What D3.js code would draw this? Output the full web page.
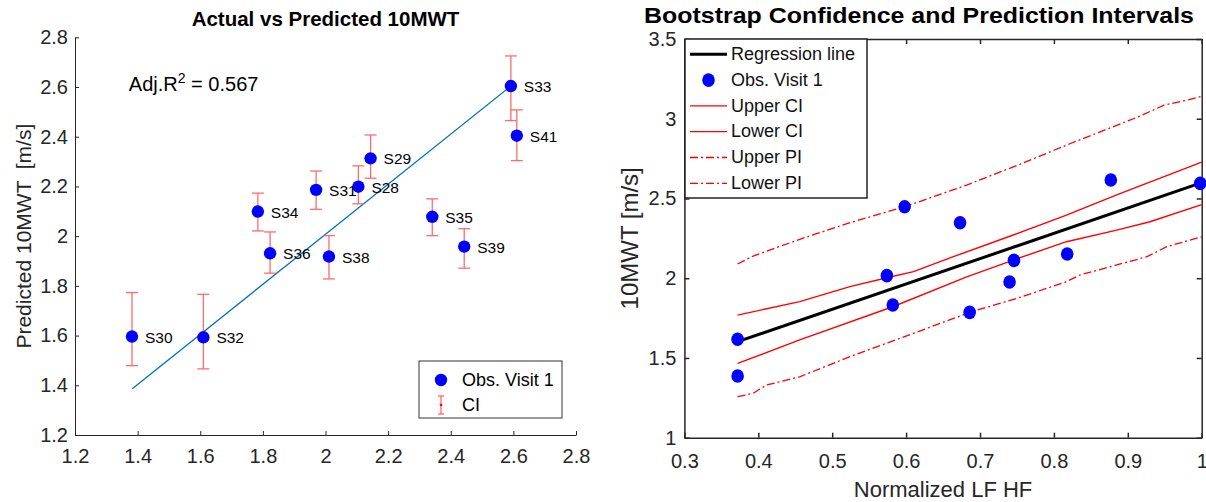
<!DOCTYPE html>
<html>
<head>
<meta charset="utf-8">
<script src="https://cdn.jsdelivr.net/npm/d3@7/dist/d3.min.js"></script>
<style>
  html, body { margin: 0; padding: 0; background: #fff; }
  svg { display: block; font-family: "Liberation Sans", Arial, Helvetica, sans-serif; }
</style>
</head>
<body>
<svg id="chart" width="1206" height="502"></svg>
<script>
// ---------- Left panel data ----------
const leftTitle = "Actual vs Predicted 10MWT";
const leftYLabel = "Predicted 10MWT  [m/s]";
const leftTicks = [1.2, 1.4, 1.6, 1.8, 2, 2.2, 2.4, 2.6, 2.8];
const subjects   = ["S33", "S41", "S29", "S31", "S28", "S35", "S39", "S38", "S34", "S36", "S30", "S32"];
const actual     = [2.592, 2.611, 2.144, 1.970, 2.105, 2.341, 2.443, 2.011, 1.784, 1.823, 1.382, 1.610];
const predicted  = [2.604, 2.404, 2.313, 2.186, 2.199, 2.078, 1.958, 1.918, 2.099, 1.931, 1.596, 1.593];
const ciLow      = [2.465, 2.304, 2.233, 2.108, 2.130, 2.002, 1.871, 1.828, 2.021, 1.851, 1.479, 1.466];
const ciHigh     = [2.725, 2.508, 2.407, 2.262, 2.283, 2.150, 2.030, 2.002, 2.173, 2.017, 1.773, 1.766];
const fitX = [1.383, 2.592];
const fitY = [1.386, 2.604];
const adjR2Text = ["Adj.R", "2", " = 0.567"];
const adjR2Pos = [1.372, 2.612];
const leftLegend = ["Obs. Visit 1", "CI"];

// ---------- Right panel data ----------
const rightTitle = "Bootstrap Confidence and Prediction Intervals";
const rightXLabel = "Normalized LF HF";
const rightYLabel = "10MWT [m/s]";
const rightXTicks = [0.3, 0.4, 0.5, 0.6, 0.7, 0.8, 0.9, 1];
const rightYTicks = [1, 1.5, 2, 2.5, 3, 3.5];
const obsX = [0.372, 0.372, 0.574, 0.582, 0.598, 0.673, 0.686, 0.740, 0.746, 0.818, 0.877, 0.998];
const obsY = [1.617, 1.387, 2.016, 1.832, 2.448, 2.348, 1.786, 1.976, 2.112, 2.152, 2.616, 2.595];
const regX = [0.372, 1.0];
const regY = [1.602, 2.599];
const upperCIX = [0.372, 0.456, 0.524, 0.574, 0.610, 0.664, 0.745, 0.817, 0.885, 1.0];
const upperCIY = [1.769, 1.853, 1.947, 2.003, 2.041, 2.135, 2.271, 2.396, 2.522, 2.728];
const lowerCIX = [0.372, 0.456, 0.582, 0.682, 0.745, 0.817, 0.885, 0.930, 1.0];
const lowerCIY = [1.466, 1.613, 1.821, 2.009, 2.114, 2.229, 2.302, 2.354, 2.462];
const upperPIX = [0.372, 0.393, 0.456, 0.524, 0.598, 0.682, 0.757, 0.820, 0.861, 0.913, 0.949, 0.983, 1.0];
const upperPIY = [2.089, 2.139, 2.244, 2.348, 2.448, 2.584, 2.720, 2.840, 2.915, 3.010, 3.085, 3.120, 3.140];
const lowerPIX = [0.372, 0.393, 0.411, 0.456, 0.524, 0.592, 0.686, 0.750, 0.817, 0.835, 0.885, 0.926, 0.953, 1.0];
const lowerPIY = [1.257, 1.278, 1.330, 1.382, 1.508, 1.623, 1.786, 1.874, 1.978, 2.020, 2.083, 2.135, 2.198, 2.260];
const rightLegend = ["Regression line", "Obs. Visit 1", "Upper CI", "Lower CI", "Upper PI", "Lower PI"];

// ---------- Drawing ----------
const svg = d3.select("#chart");
const axisColor = "#262626";
const dashDot = "8,3,2,3";

function styleAxis(g, fs, width) {
  g.select(".domain").attr("stroke", axisColor).attr("stroke-width", width);
  g.selectAll(".tick line").attr("stroke", axisColor).attr("stroke-width", width);
  g.selectAll(".tick text").attr("fill", axisColor).attr("font-size", fs);
  g.attr("font-family", null);
}

// ===== LEFT =====
const xL = d3.scaleLinear().domain([1.2, 2.8]).range([75, 576]);
const yL = d3.scaleLinear().domain([1.2, 2.8]).range([435, 37.3]);
const L = svg.append("g");

L.append("g").attr("transform", `translate(0,${yL(1.2)})`)
  .call(d3.axisBottom(xL).tickValues(leftTicks).tickFormat(d3.format("~g"))
        .tickSizeInner(-4).tickSizeOuter(0).tickPadding(14))
  .call(g => styleAxis(g, 20, 1));
L.append("g").attr("transform", `translate(${xL(1.2)},0)`)
  .call(d3.axisLeft(yL).tickValues(leftTicks).tickFormat(d3.format("~g"))
        .tickSizeInner(-4).tickSizeOuter(0).tickPadding(7))
  .call(g => styleAxis(g, 20, 1));

L.append("text").attr("x", (xL(1.2) + xL(2.8)) / 2).attr("y", 26)
  .attr("text-anchor", "middle").attr("font-weight", "bold").attr("font-size", 20.5)
  .attr("fill", "#000").text(leftTitle);
L.append("text").attr("transform", `translate(25,${(yL(1.2) + yL(2.8)) / 2}) rotate(-90)`)
  .attr("text-anchor", "middle").attr("dominant-baseline", "middle")
  .attr("font-size", 21).attr("fill", axisColor).style("white-space", "pre")
  .attr("xml:space", "preserve").text(leftYLabel);

// fit line
L.append("line").attr("x1", xL(fitX[0])).attr("y1", yL(fitY[0]))
  .attr("x2", xL(fitX[1])).attr("y2", yL(fitY[1]))
  .attr("stroke", "#0072BD").attr("stroke-width", 1.3);

// error bars
const eb = L.append("g").attr("stroke", "#ff5c5c").attr("stroke-width", 1.3).attr("opacity", 0.9);
subjects.forEach((s, i) => {
  const x = xL(actual[i]);
  eb.append("line").attr("x1", x).attr("x2", x).attr("y1", yL(ciLow[i])).attr("y2", yL(ciHigh[i]));
  eb.append("line").attr("x1", x - 6).attr("x2", x + 6).attr("y1", yL(ciLow[i])).attr("y2", yL(ciLow[i]));
  eb.append("line").attr("x1", x - 6).attr("x2", x + 6).attr("y1", yL(ciHigh[i])).attr("y2", yL(ciHigh[i]));
});
// dots
L.append("g").selectAll("circle").data(subjects).join("circle")
  .attr("cx", (d, i) => xL(actual[i])).attr("cy", (d, i) => yL(predicted[i]))
  .attr("r", 6.2).attr("fill", "#0000ff");
// labels
L.append("g").selectAll("text").data(subjects).join("text")
  .attr("x", (d, i) => xL(actual[i]) + 13).attr("y", (d, i) => yL(predicted[i]) + 2)
  .attr("dominant-baseline", "middle").attr("font-size", 15.5).attr("fill", "#000")
  .text(d => d);

// Adj R2
const r2 = L.append("text").attr("x", xL(adjR2Pos[0])).attr("y", yL(adjR2Pos[1]) + 7)
  .attr("font-size", 20).attr("fill", "#000");
r2.append("tspan").text(adjR2Text[0]);
r2.append("tspan").attr("dy", -8).attr("font-size", 14).text(adjR2Text[1]);
r2.append("tspan").attr("dy", 8).text(adjR2Text[2]);

// left legend
const lg = L.append("g");
lg.append("rect").attr("x", 419).attr("y", 361).attr("width", 143).attr("height", 57)
  .attr("fill", "#fff").attr("stroke", "#333").attr("stroke-width", 1);
lg.append("circle").attr("cx", 441).attr("cy", 380).attr("r", 6.2).attr("fill", "#0000ff");
lg.append("text").attr("x", 462).attr("y", 381).attr("dominant-baseline", "middle")
  .attr("font-size", 18).attr("fill", "#000").text(leftLegend[0]);
const ciMk = lg.append("g").attr("stroke", "#ff5c5c").attr("stroke-width", 1.2);
ciMk.append("line").attr("x1", 441).attr("x2", 441).attr("y1", 396).attr("y2", 414);
ciMk.append("line").attr("x1", 438).attr("x2", 444).attr("y1", 396).attr("y2", 396);
ciMk.append("line").attr("x1", 438).attr("x2", 444).attr("y1", 414).attr("y2", 414);
lg.append("circle").attr("cx", 441).attr("cy", 405).attr("r", 1.3).attr("fill", "#ff0000");
lg.append("text").attr("x", 462).attr("y", 406).attr("dominant-baseline", "middle")
  .attr("font-size", 18).attr("fill", "#000").text(leftLegend[1]);

// ===== RIGHT =====
const xR = d3.scaleLinear().domain([0.3, 1]).range([684.4, 1201.7]);
const yR = d3.scaleLinear().domain([1, 3.5]).range([437.7, 39]);
const R = svg.append("g");

R.append("g").attr("transform", `translate(0,${yR(1)})`)
  .call(d3.axisBottom(xR).tickValues(rightXTicks).tickFormat(d3.format("~g"))
        .tickSizeInner(-5).tickSizeOuter(0).tickPadding(16))
  .call(g => styleAxis(g, 20, 1.5));
R.append("g").attr("transform", `translate(0,${yR(3.5)})`)
  .call(d3.axisTop(xR).tickValues(rightXTicks).tickFormat("")
        .tickSizeInner(-5).tickSizeOuter(0))
  .call(g => styleAxis(g, 20, 1.5));
R.append("g").attr("transform", `translate(${xR(0.3)},0)`)
  .call(d3.axisLeft(yR).tickValues(rightYTicks).tickFormat(d3.format("~g"))
        .tickSizeInner(-5).tickSizeOuter(0).tickPadding(8))
  .call(g => styleAxis(g, 20, 1.5));
R.append("g").attr("transform", `translate(${xR(1)},0)`)
  .call(d3.axisRight(yR).tickValues(rightYTicks).tickFormat("")
        .tickSizeInner(-5).tickSizeOuter(0))
  .call(g => styleAxis(g, 20, 1.5));

R.append("text").attr("x", 919).attr("y", 22.5)
  .attr("text-anchor", "middle").attr("font-weight", "bold").attr("font-size", 22.5)
  .attr("textLength", 550).attr("lengthAdjust", "spacingAndGlyphs")
  .attr("fill", "#000").text(rightTitle);
R.append("text").attr("x", (xR(0.3) + xR(1)) / 2).attr("y", 497)
  .attr("text-anchor", "middle").attr("font-size", 22).attr("fill", axisColor).text(rightXLabel);
R.append("text").attr("transform", `translate(632,${(yR(1) + yR(3.5)) / 2}) rotate(-90)`)
  .attr("text-anchor", "middle").attr("dominant-baseline", "middle")
  .attr("font-size", 24).attr("fill", axisColor).text(rightYLabel);

const line = d3.line().x(d => xR(d[0])).y(d => yR(d[1]));
const zip = (a, b) => a.map((v, i) => [v, b[i]]);

R.append("path").attr("d", line(zip(upperPIX, upperPIY))).attr("fill", "none")
  .attr("stroke", "#ff0000").attr("stroke-width", 1.3).attr("stroke-dasharray", dashDot);
R.append("path").attr("d", line(zip(lowerPIX, lowerPIY))).attr("fill", "none")
  .attr("stroke", "#ff0000").attr("stroke-width", 1.3).attr("stroke-dasharray", dashDot);
R.append("path").attr("d", line(zip(upperCIX, upperCIY))).attr("fill", "none")
  .attr("stroke", "#ff0000").attr("stroke-width", 1.4);
R.append("path").attr("d", line(zip(lowerCIX, lowerCIY))).attr("fill", "none")
  .attr("stroke", "#ff0000").attr("stroke-width", 1.4);
R.append("path").attr("d", line(zip(regX, regY))).attr("fill", "none")
  .attr("stroke", "#000").attr("stroke-width", 3);
R.append("g").selectAll("ellipse").data(obsX).join("ellipse")
  .attr("cx", (d, i) => xR(obsX[i])).attr("cy", (d, i) => yR(obsY[i]))
  .attr("rx", 6.3).attr("ry", 6.8).attr("fill", "#0000ff");

// right legend
const rg = R.append("g");
rg.append("rect").attr("x", 685).attr("y", 39).attr("width", 182).attr("height", 159)
  .attr("fill", "#fff").attr("stroke", "#222").attr("stroke-width", 1.5);
const rowY = i => 54.3 + i * 25.8;
rightLegend.forEach((t, i) => {
  const y = rowY(i);
  if (i === 0) {
    rg.append("line").attr("x1", 690).attr("x2", 727).attr("y1", y).attr("y2", y)
      .attr("stroke", "#000").attr("stroke-width", 3);
  } else if (i === 1) {
    rg.append("ellipse").attr("cx", 708.5).attr("cy", y).attr("rx", 6.3).attr("ry", 6.8).attr("fill", "#0000ff");
  } else {
    rg.append("line").attr("x1", 690).attr("x2", 727).attr("y1", y).attr("y2", y)
      .attr("stroke", "#ff0000").attr("stroke-width", 1.3)
      .attr("stroke-dasharray", i >= 4 ? dashDot : null);
  }
  rg.append("text").attr("x", 731).attr("y", y + 1).attr("dominant-baseline", "middle")
    .attr("font-size", 18).attr("fill", "#111").text(t);
});
</script>
</body>
</html>
